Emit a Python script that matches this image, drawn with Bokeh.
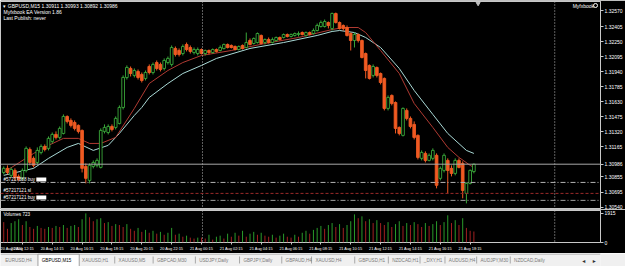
import numpy as np
from bokeh.plotting import figure
from bokeh.layouts import column
from bokeh.models import (Range1d, FixedTicker, PrintfTickFormatter, ColumnDataSource, Span)
from bokeh.embed import file_html
from bokeh.resources import INLINE
from bokeh.core.properties import value

# ---------------- data (GBPUSD M15, 20 Aug 11:00 .. 21 Aug 18:30) ----------------
bar_index = list(range(127))
opens = [
    1.30901, 1.30943, 1.30871, 1.30922, 1.30860, 1.30840, 1.30922, 1.31138, 1.31046, 1.31004,
    1.31107, 1.31169, 1.31149, 1.31221, 1.31293, 1.31262, 1.31303, 1.31478, 1.31437, 1.31416,
    1.31386, 1.31334, 1.30963, 1.30819, 1.30963, 1.30974, 1.30953, 1.31324, 1.31313, 1.31375,
    1.31365, 1.31406, 1.31571, 1.31880, 1.31973, 1.31901, 1.31942, 1.31911, 1.31870, 1.31993,
    1.31931, 1.32034, 1.32014, 1.31973, 1.32034, 1.32014, 1.32179, 1.32158, 1.32127, 1.32220,
    1.32189, 1.32137, 1.32127, 1.32168, 1.32127, 1.32158, 1.32137, 1.32168, 1.32158, 1.32179,
    1.32220, 1.32210, 1.32199, 1.32168, 1.32210, 1.32189, 1.32261, 1.32230, 1.32240, 1.32313,
    1.32240, 1.32271, 1.32240, 1.32261, 1.32292, 1.32292, 1.32323, 1.32302, 1.32313, 1.32323,
    1.32343, 1.32313, 1.32343, 1.32333, 1.32364, 1.32405, 1.32405, 1.32446, 1.32385, 1.32539,
    1.32446, 1.32416, 1.32395, 1.32333, 1.32261, 1.32323, 1.32261, 1.32127, 1.32004, 1.31901,
    1.31983, 1.31921, 1.31870, 1.31561, 1.31695, 1.31622, 1.31365, 1.31283, 1.31540, 1.31458,
    1.31396, 1.31283, 1.31046, 1.31097, 1.31025, 1.31046, 1.31077, 1.30840, 1.30922, 1.31025,
    1.30943, 1.30891, 1.31025, 1.30994, 1.30685, 1.30788, 1.30911]
highs = [
    1.30963, 1.30974, 1.30953, 1.30943, 1.30881, 1.30943, 1.31169, 1.31159, 1.31066, 1.31159,
    1.31190, 1.31190, 1.31272, 1.31313, 1.31324, 1.31375, 1.31499, 1.31489, 1.31458, 1.31437,
    1.31396, 1.31344, 1.30994, 1.30994, 1.31025, 1.31046, 1.31355, 1.31396, 1.31396, 1.31396,
    1.31478, 1.31592, 1.31901, 1.32004, 1.31993, 1.31973, 1.31962, 1.31931, 1.31952, 1.32014,
    1.32034, 1.32055, 1.32034, 1.32076, 1.32096, 1.32210, 1.32199, 1.32179, 1.32220, 1.32240,
    1.32210, 1.32189, 1.32189, 1.32179, 1.32168, 1.32168, 1.32179, 1.32179, 1.32210, 1.32230,
    1.32230, 1.32220, 1.32210, 1.32210, 1.32220, 1.32343, 1.32282, 1.32292, 1.32343, 1.32323,
    1.32282, 1.32292, 1.32292, 1.32302, 1.32302, 1.32333, 1.32333, 1.32333, 1.32343, 1.32354,
    1.32354, 1.32354, 1.32354, 1.32385, 1.32436, 1.32467, 1.32477, 1.32457, 1.32549, 1.32549,
    1.32457, 1.32426, 1.32416, 1.32343, 1.32343, 1.32333, 1.32271, 1.32137, 1.32014, 1.32014,
    1.31993, 1.31931, 1.31880, 1.31695, 1.31705, 1.31633, 1.31375, 1.31571, 1.31561, 1.31478,
    1.31427, 1.31293, 1.31128, 1.31118, 1.31097, 1.31149, 1.31097, 1.30963, 1.31097, 1.31046,
    1.30974, 1.31046, 1.31046, 1.31015, 1.30798, 1.30932, 1.30993]
lows = [
    1.30881, 1.30881, 1.30850, 1.30819, 1.30809, 1.30819, 1.30901, 1.30974, 1.30953, 1.30984,
    1.31087, 1.31118, 1.31128, 1.31200, 1.31241, 1.31241, 1.31293, 1.31406, 1.31365, 1.31334,
    1.31303, 1.30901, 1.30788, 1.30788, 1.30943, 1.30953, 1.30943, 1.31303, 1.31293, 1.31324,
    1.31344, 1.31396, 1.31550, 1.31859, 1.31890, 1.31880, 1.31859, 1.31828, 1.31849, 1.31911,
    1.31911, 1.31952, 1.31942, 1.31952, 1.32014, 1.31993, 1.32096, 1.32096, 1.32107, 1.32148,
    1.32127, 1.32117, 1.32107, 1.32117, 1.32107, 1.32117, 1.32127, 1.32137, 1.32148, 1.32168,
    1.32179, 1.32179, 1.32158, 1.32158, 1.32168, 1.32179, 1.32210, 1.32220, 1.32230, 1.32220,
    1.32220, 1.32230, 1.32230, 1.32251, 1.32261, 1.32282, 1.32292, 1.32292, 1.32302, 1.32302,
    1.32313, 1.32302, 1.32313, 1.32323, 1.32354, 1.32395, 1.32395, 1.32385, 1.32364, 1.32436,
    1.32374, 1.32364, 1.32302, 1.32158, 1.32189, 1.32240, 1.32076, 1.31870, 1.31859, 1.31880,
    1.31880, 1.31808, 1.31540, 1.31540, 1.31592, 1.31303, 1.31283, 1.31272, 1.31437, 1.31355,
    1.31241, 1.31035, 1.31025, 1.31004, 1.31015, 1.31025, 1.30737, 1.30819, 1.30901, 1.30685,
    1.30860, 1.30871, 1.30943, 1.30634, 1.30582, 1.30778, 1.30892]
closes = [
    1.30943, 1.30901, 1.30932, 1.30850, 1.30829, 1.30922, 1.31149, 1.31004, 1.30974, 1.31128,
    1.31169, 1.31138, 1.31252, 1.31293, 1.31262, 1.31355, 1.31478, 1.31427, 1.31386, 1.31355,
    1.31324, 1.30943, 1.30840, 1.30974, 1.31004, 1.31025, 1.31334, 1.31365, 1.31375, 1.31344,
    1.31458, 1.31571, 1.31880, 1.31983, 1.31921, 1.31952, 1.31880, 1.31849, 1.31931, 1.31931,
    1.32014, 1.31973, 1.31962, 1.32055, 1.32076, 1.32189, 1.32117, 1.32117, 1.32199, 1.32168,
    1.32148, 1.32168, 1.32168, 1.32127, 1.32158, 1.32137, 1.32168, 1.32148, 1.32189, 1.32220,
    1.32189, 1.32189, 1.32168, 1.32199, 1.32179, 1.32240, 1.32220, 1.32282, 1.32333, 1.32230,
    1.32271, 1.32240, 1.32271, 1.32292, 1.32271, 1.32323, 1.32302, 1.32323, 1.32333, 1.32333,
    1.32323, 1.32343, 1.32323, 1.32364, 1.32416, 1.32446, 1.32457, 1.32416, 1.32539, 1.32446,
    1.32385, 1.32385, 1.32313, 1.32261, 1.32323, 1.32261, 1.32086, 1.31952, 1.31870, 1.31993,
    1.31901, 1.31828, 1.31561, 1.31674, 1.31612, 1.31355, 1.31303, 1.31561, 1.31458, 1.31375,
    1.31262, 1.31056, 1.31107, 1.31025, 1.31077, 1.31128, 1.30768, 1.30943, 1.31077, 1.30922,
    1.30891, 1.31025, 1.30953, 1.30716, 1.30788, 1.30922, 1.30986]
volumes = [
    1340, 900, 1280, 1400, 1530, 1150, 1400, 1020, 900, 1090,
    960, 900, 1020, 960, 1090, 1020, 1150, 960, 1090, 1150,
    1020, 1530, 1915, 1660, 1400, 1530, 1600, 1280, 1340, 1090,
    1210, 1150, 1020, 1210, 900, 770, 960, 700, 830, 640,
    770, 580, 700, 510, 640, 960, 510, 580, 380, 450,
    320, 260, 320, 320, 260, 510, 190, 380, 450, 260,
    580, 380, 640, 450, 770, 380, 580, 700, 510, 640,
    450, 380, 510, 320, 450, 580, 380, 320, 510, 380,
    640, 770, 580, 830, 960, 1090, 900, 1150, 1280, 1020,
    1210, 960, 1150, 1400, 1850, 1600, 1720, 1400, 1530, 1280,
    1470, 1280, 1150, 1340, 1020, 1210, 1400, 1090, 1280, 1150,
    1340, 1210, 1020, 1280, 1090, 1210, 1400, 1150, 1340, 1790,
    1280, 1470, 1150, 1600, 960, 770, 723]

fast_ma_idx = [0, 8, 12, 16, 20, 23, 26, 30, 35, 39, 44, 48, 53, 61, 70, 79, 88, 91, 95, 97,
               101, 106, 110, 115, 119, 122, 125, 126]
fast_ma = [1.30901, 1.31097, 1.31180, 1.31252, 1.31252, 1.31200, 1.31200, 1.31262, 1.31561, 1.31818,
           1.31952, 1.32034, 1.32107, 1.32158, 1.32230, 1.32292, 1.32374, 1.32395, 1.32395, 1.32343,
           1.32158, 1.31921, 1.31612, 1.31365, 1.31159, 1.31056, 1.30974, 1.30953]
slow_ma_idx = [0, 8, 12, 17, 20, 24, 28, 31, 35, 37, 39, 44, 48, 53, 57, 66, 75, 84, 88, 90,
               94, 97, 101, 106, 110, 115, 119, 124, 126]
slow_ma = [1.30871, 1.30943, 1.31046, 1.31159, 1.31200, 1.31128, 1.31180, 1.31303, 1.31489, 1.31571,
           1.31674, 1.31818, 1.31921, 1.32004, 1.32076, 1.32179, 1.32240, 1.32313, 1.32354, 1.32364,
           1.32343, 1.32292, 1.32189, 1.31973, 1.31746, 1.31499, 1.31303, 1.31128, 1.31097]

bid_price = 1.30986
price_ticks = [1.32570, 1.32405, 1.32250, 1.32095, 1.31940, 1.31785, 1.31630, 1.31475,
               1.31320, 1.31165, bid_price, 1.30855, 1.30695, 1.30540]
order_buy_1 = 1.30798
order_sl = 1.30685
order_buy_2 = 1.30613
volume_ticks = [0, 1915]
time_tick_idx = [-0.84, 5, 13, 21, 29, 37, 45, 53, 61, 69, 77, 85, 93, 101, 109, 117, 125]
time_tick_labels = ["20 Aug 2020", "20 Aug 12:15", "20 Aug 14:15", "20 Aug 16:15", "20 Aug 18:15",
                    "20 Aug 20:15", "20 Aug 22:15", "21 Aug 00:15", "21 Aug 02:15", "21 Aug 04:15",
                    "21 Aug 06:15", "21 Aug 08:15", "21 Aug 10:15", "21 Aug 12:15", "21 Aug 14:15",
                    "21 Aug 16:15", "21 Aug 18:15"]
tabs = ["EURUSD,H4", "GBPUSD,M15", "XAUUSD,H1", "XAUUSD,M5", "GBPCAD,M30", "USDJPY,Daily",
        "GBPJPY,Daily", "GBPAUD,H4", "XAUUSD,H4", "GBPUSD,H1", "NZDCAD,H1", "_DXY,H1",
        "AUDUSD,H4", "AUDJPY,M30", "NZDCAD,Daily"]

# ---------------- styling / layout ----------------
FONT = "Liberation Sans"
BULL = "#3aa83a"
BEAR = "#f05a22"
AXC = "#c8c8c8"
BAR_PX = 3.75
FRAME_W = 603
XS = -3.25 / BAR_PX
XE = XS + FRAME_W / BAR_PX
xr = Range1d(XS, XE)

o = np.array(opens); c = np.array(closes)
bull = c >= o
src = ColumnDataSource(dict(
    x=bar_index, h=highs, l=lows,
    top=np.maximum(o, c), bot=np.minimum(o, c),
    fill=["black" if b else BEAR for b in bull],
    line=[BULL if b else BEAR for b in bull]))

# ---- price panel ----
p = figure(width=625, height=209, x_range=xr, y_range=Range1d(1.30519, 1.32663),
           output_backend="svg", toolbar_location=None, x_axis_location=None,
           y_axis_location="right", background_fill_color="black", border_fill_color="black",
           min_border_left=0, min_border_right=22, min_border_top=1, min_border_bottom=0)
p.grid.visible = False
p.outline_line_color = AXC
p.extra_x_ranges = {"px": Range1d(0, FRAME_W)}
p.extra_y_ranges = {"px": Range1d(209, 1)}

ya = p.yaxis[0]
ya.ticker = FixedTicker(ticks=price_ticks)
ya.formatter = PrintfTickFormatter(format="%.5f")
ya.axis_line_color = AXC
ya.major_tick_line_color = AXC
ya.major_tick_out = 3
ya.major_tick_in = 0
ya.minor_tick_line_color = None
ya.major_label_text_color = "white"
ya.major_label_text_font_size = "5px"
ya.major_label_text_font = FONT
ya.major_label_standoff = 1

# period separators
for sx in (203, 557):
    p.add_layout(Span(location=sx, dimension="height", x_range_name="px",
                      line_color="#bdbdbd", line_dash="1 2", line_width=1))

# horizontal levels
p.add_layout(Span(location=bid_price, dimension="width", line_color="#a8a8a8", line_width=1))
p.add_layout(Span(location=order_buy_1, dimension="width", line_color="#b4b4b4",
                  line_dash="5 2 1 2", line_width=1))
p.add_layout(Span(location=order_sl, dimension="width", line_color="#9a2a2a",
                  line_dash="3 2", line_width=1))
p.add_layout(Span(location=order_buy_2, dimension="width", line_color="#a0a0a0",
                  line_dash="5 2 1 2", line_width=1))

# moving averages
p.line(slow_ma_idx, slow_ma, line_color="#a9d9d6", line_width=1)
p.line(fast_ma_idx, fast_ma, line_color="#b03a32", line_width=1)

# candles
p.segment(x0="x", y0="h", x1="x", y1="l", source=src, line_color="line", line_width=1)
p.vbar(x="x", width=0.72, top="top", bottom="bot", source=src,
       fill_color="fill", line_color="line", line_width=0.9)

# header texts
p.text(x=[3, 3, 3], y=[5, 11, 17],
       text=["\u25be GBPUSD,M15  1.30911 1.30993 1.30892 1.30986",
             "Myfxbook EA Version 1.86", "Last Publish: never"],
       x_range_name="px", y_range_name="px", text_font=value(FONT),
       text_font_size="5px", text_color="white", text_baseline="middle")
p.text(x=[575], y=[5], text=["Myfxbook"], x_range_name="px", y_range_name="px",
       text_font=value(FONT), text_font_size="5px", text_color="white", text_baseline="middle")
p.scatter(x=[598], y=[5], marker="circle", size=4, fill_color=None, line_color="white",
          x_range_name="px", y_range_name="px")
p.scatter(x=[480], y=[3], marker="inverted_triangle", size=4, color="#c0c0c0",
          x_range_name="px", y_range_name="px")

# order labels
p.text(x=[3, 3, 3], y=[179, 190, 197],
       text=["#57217388 buy", "#57217121 sl", "#57217121 buy"],
       x_range_name="px", y_range_name="px", text_font=value(FONT),
       text_font_size="4.6px", text_color="white", text_baseline="middle")
p.quad(left=[36, 36], right=[46, 46], top=[177, 195], bottom=[181, 199],
       x_range_name="px", y_range_name="px", fill_color="white", line_color=None)

# ---- volume panel ----
vcol = ["#2a9a2a" if (i > 0 and volumes[i] > volumes[i - 1]) else "#a02020"
        for i in range(len(volumes))]
vsrc = ColumnDataSource(dict(x=bar_index, v=volumes, z=[0] * len(volumes), col=vcol))
v = figure(width=625, height=44, x_range=xr, y_range=Range1d(0, 2106),
           output_backend="svg", toolbar_location=None, y_axis_location="right",
           background_fill_color="black", border_fill_color="black",
           min_border_left=0, min_border_right=22, min_border_top=1, min_border_bottom=10)
v.grid.visible = False
v.outline_line_color = AXC
v.extra_x_ranges = {"px": Range1d(0, FRAME_W)}
v.extra_y_ranges = {"px": Range1d(243, 210)}
for sx in (203, 557):
    v.add_layout(Span(location=sx, dimension="height", x_range_name="px",
                      line_color="#bdbdbd", line_dash="1 2", line_width=1))
v.segment(x0="x", y0="z", x1="x", y1="v", source=vsrc, line_color="col", line_width=1)
v.text(x=[3], y=[214], text=["Volumes 723"], x_range_name="px", y_range_name="px",
       text_font=value(FONT), text_font_size="4.6px", text_color="white", text_baseline="middle")

vy = v.yaxis[0]
vy.ticker = FixedTicker(ticks=volume_ticks)
vy.axis_line_color = AXC
vy.major_tick_line_color = AXC
vy.major_tick_out = 3
vy.major_tick_in = 0
vy.minor_tick_line_color = None
vy.major_label_text_color = "white"
vy.major_label_text_font_size = "5px"
vy.major_label_text_font = FONT
vy.major_label_standoff = 1

vx = v.xaxis[0]
vx.ticker = FixedTicker(ticks=time_tick_idx)
vx.major_label_overrides = {t: lab for t, lab in zip(time_tick_idx, time_tick_labels)}
vx.axis_line_color = None
vx.major_tick_line_color = AXC
vx.major_tick_out = 2
vx.major_tick_in = 0
vx.minor_tick_line_color = None
vx.major_label_text_color = "white"
vx.major_label_text_font_size = "3.9px"
vx.major_label_text_font = FONT
vx.major_label_text_align = "left"
vx.major_label_standoff = 1

# ---- tab bar ----
tab_x = [5, 43, 85, 123, 163, 207, 253, 297, 328, 373, 408, 441, 467, 500, 535]
t = figure(width=625, height=13, x_range=Range1d(0, 625), y_range=Range1d(0, 13),
           output_backend="svg", toolbar_location=None, x_axis_location=None, y_axis_location=None,
           background_fill_color="#f0f0f0", border_fill_color="#f0f0f0",
           min_border=0)
t.grid.visible = False
t.outline_line_color = None
t.quad(left=[39], right=[82], bottom=[0], top=[12.5], fill_color="white", line_color="#a0a0a0")
t.segment(x0=[0], y0=[12.5], x1=[625], y1=[12.5], line_color="#a0a0a0", line_width=1)
sep_x = [tab_x[k + 1] - 4 for k in range(len(tab_x) - 1) if k not in (0, 1)]
t.segment(x0=sep_x, y0=[3] * len(sep_x), x1=sep_x, y1=[10] * len(sep_x),
          line_color="#a8a8a8", line_width=1)
t.text(x=tab_x, y=[6.3] * len(tab_x), text=tabs,
       text_color=["#000000" if s == "GBPUSD,M15" else "#7a7a7a" for s in tabs],
       text_font=value(FONT), text_font_size="4.6px", text_baseline="middle")
t.text(x=[606, 617], y=[6.3, 6.3], text=["\u25c2", "\u25b8"], text_color="#303030",
       text_font=value("DejaVu Sans"), text_font_size="6px", text_baseline="middle")

layout = column(p, v, t, spacing=0)
open("out.html", "w").write(file_html(layout, INLINE))
